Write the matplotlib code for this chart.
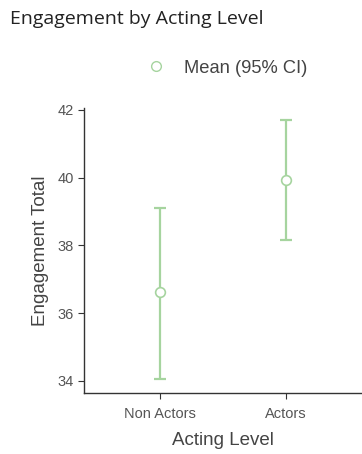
import matplotlib
matplotlib.use("Agg")
import matplotlib.pyplot as plt
from matplotlib.lines import Line2D

categories = ["Non Actors", "Actors"]
means = [36.61, 39.93]
ci_low = [34.05, 38.15]
ci_high = [39.10, 41.70]

green = "#a6d49f"
fig = plt.figure(figsize=(3.62, 4.54), dpi=100)
ax = fig.add_axes([0.232, 0.134, 0.768, 0.628])

x = list(range(1, len(categories) + 1))
yerr = [[m - l for m, l in zip(means, ci_low)], [h - m for m, h in zip(means, ci_high)]]
ax.errorbar(x, means, yerr=yerr, fmt="none", ecolor=green, elinewidth=1.6, capsize=4.5, capthick=1.6, zorder=2)
ax.plot(x, means, "o", ms=7, mfc="white", mec=green, mew=1.2, zorder=3)

ax.set_xlim(0.4, 2.6)
ax.set_ylim(33.64, 42.05)
ax.set_yticks([34, 36, 38, 40, 42])
ax.set_xticks(x)
ax.set_xticklabels(categories)
for s in ["top", "right"]:
    ax.spines[s].set_visible(False)
for s in ["left", "bottom"]:
    ax.spines[s].set_color("#333333")
    ax.spines[s].set_linewidth(1.0)
ax.tick_params(axis="both", colors="#333333", labelcolor="#555555", labelsize=10.5, length=4)
ax.tick_params(axis="x", pad=6)
for lab in ax.get_xticklabels() + ax.get_yticklabels():
    lab.set_family("Liberation Sans")
ax.set_ylabel("Engagement Total", fontsize=13.5, color="#444444", family="Liberation Sans", labelpad=6)
ax.set_xlabel("Acting Level", fontsize=13.5, color="#444444", family="Liberation Sans", labelpad=8)

fig.text(0.028, 0.958, "Engagement by Acting Level", fontsize=14, color="#222222", family="Open Sans", va="center", ha="left")
h = Line2D([], [], marker="o", ls="none", ms=7, mfc="white", mec=green, mew=1.0)
fig.legend([h], ["Mean (95% CI)"], loc="center", bbox_to_anchor=(0.615, 0.85), frameon=False,
           prop={"family": "Liberation Sans", "size": 13.2}, labelcolor="#444444", handletextpad=0.5)

fig.savefig("out.png", dpi=100)
